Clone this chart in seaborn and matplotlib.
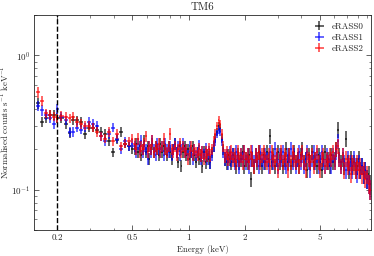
import numpy as np
import matplotlib
matplotlib.use("Agg")
import matplotlib.pyplot as plt
import matplotlib.ticker as mticker
import seaborn as sns

# Spectrum data
energy = [0.157, 0.165, 0.173, 0.182, 0.191, 0.200, 0.210, 0.221, 0.232, 0.243,
          0.255, 0.268, 0.282, 0.296, 0.311, 0.326, 0.342, 0.359, 0.377, 0.396,
          0.416, 0.437, 0.459, 0.482, 0.500,
          0.516, 0.526, 0.537, 0.548, 0.559, 0.570, 0.581, 0.593, 0.605, 0.617,
          0.629, 0.642, 0.654, 0.667, 0.681, 0.694, 0.708, 0.722, 0.737, 0.752,
          0.767, 0.782, 0.798, 0.814, 0.830, 0.846, 0.863, 0.881, 0.898, 0.916,
          0.935, 0.953, 0.972, 0.992, 1.012, 1.032, 1.052, 1.073, 1.095, 1.117,
          1.139, 1.162, 1.185, 1.209, 1.233, 1.258, 1.283, 1.309, 1.335, 1.361,
          1.389, 1.416, 1.445, 1.474, 1.503, 1.533, 1.564, 1.595, 1.627, 1.660,
          1.693, 1.727, 1.761, 1.797, 1.833, 1.869, 1.907, 1.945, 1.984, 2.023,
          2.064, 2.105, 2.147, 2.190, 2.234, 2.279, 2.324, 2.371, 2.418, 2.467,
          2.516, 2.566, 2.618, 2.670, 2.723, 2.778, 2.834, 2.890, 2.948, 3.007,
          3.067, 3.129, 3.191, 3.255, 3.320, 3.387, 3.454, 3.523, 3.594, 3.666,
          3.739, 3.814, 3.890, 3.968, 4.047, 4.128, 4.211, 4.295, 4.381, 4.469,
          4.558, 4.649, 4.742, 4.837, 4.934, 5.033, 5.133, 5.236, 5.341, 5.447,
          5.556, 5.668, 5.781, 5.897, 6.015, 6.135, 6.257, 6.383, 6.510, 6.640,
          6.773, 6.909, 7.047, 7.188, 7.331, 7.478, 7.628, 7.780, 7.936, 8.094,
          8.256, 8.421, 8.590, 8.762, 8.937, 9.116, 9.298, 9.484]

erass0 = [0.44, 0.32, 0.343, 0.36, 0.36, 0.343, 0.34, 0.306, 0.265, 0.33,
          0.33, 0.32, 0.258, 0.29, 0.29, 0.28, 0.27, 0.26, 0.23, 0.19,
          0.236, 0.27, 0.22, 0.21, 0.20,
          0.20, 0.22, 0.19, 0.21, 0.18, 0.20, 0.23, 0.19, 0.21, 0.17,
          0.20, 0.22, 0.19, 0.21, 0.20, 0.18, 0.22, 0.19, 0.21, 0.20,
          0.18, 0.21, 0.19, 0.17, 0.20, 0.22, 0.19, 0.16, 0.21, 0.15,
          0.19, 0.21, 0.18, 0.20, 0.17, 0.19, 0.21, 0.18, 0.16, 0.19,
          0.17, 0.18, 0.15, 0.19, 0.16, 0.18, 0.17, 0.16, 0.19, 0.21,
          0.24, 0.27, 0.30, 0.29, 0.24, 0.20, 0.17, 0.16, 0.18, 0.17,
          0.16, 0.18, 0.17, 0.15, 0.18, 0.16, 0.17, 0.19, 0.15, 0.17,
          0.16, 0.18, 0.12, 0.17, 0.15, 0.18, 0.16, 0.19, 0.17, 0.15,
          0.18, 0.16, 0.19, 0.17, 0.25, 0.16, 0.18, 0.15, 0.17, 0.19,
          0.16, 0.18, 0.15, 0.17, 0.20, 0.16, 0.18, 0.15, 0.17, 0.19,
          0.16, 0.17, 0.15, 0.18, 0.20, 0.16, 0.17, 0.14, 0.18, 0.16,
          0.19, 0.16, 0.17, 0.15, 0.18, 0.16, 0.14, 0.17, 0.19, 0.16,
          0.17, 0.15, 0.18, 0.16, 0.17, 0.20, 0.28, 0.18, 0.16, 0.17,
          0.15, 0.24, 0.16, 0.14, 0.17, 0.15, 0.16, 0.14, 0.15, 0.17,
          0.14, 0.15, 0.13, 0.14, 0.12, 0.13, 0.11, 0.10]

erass1 = [0.42, 0.39, 0.36, 0.34, 0.31, 0.40, 0.35, 0.33, 0.27, 0.27,
          0.29, 0.28, 0.29, 0.32, 0.31, 0.30, 0.25, 0.23, 0.26, 0.29,
          0.24, 0.20, 0.23, 0.21, 0.22,
          0.21, 0.19, 0.22, 0.20, 0.23, 0.19, 0.21, 0.20, 0.17, 0.21,
          0.19, 0.23, 0.20, 0.18, 0.22, 0.20, 0.19, 0.21, 0.18, 0.22,
          0.20, 0.19, 0.21, 0.18, 0.20, 0.22, 0.19, 0.21, 0.18, 0.20,
          0.22, 0.19, 0.20, 0.18, 0.21, 0.19, 0.17, 0.20, 0.18, 0.19,
          0.21, 0.17, 0.19, 0.18, 0.20, 0.17, 0.19, 0.16, 0.18, 0.21,
          0.23, 0.26, 0.28, 0.27, 0.23, 0.19, 0.17, 0.18, 0.16, 0.19,
          0.17, 0.18, 0.16, 0.19, 0.17, 0.15, 0.18, 0.17, 0.19, 0.16,
          0.18, 0.15, 0.17, 0.19, 0.16, 0.18, 0.17, 0.15, 0.19, 0.17,
          0.16, 0.18, 0.17, 0.15, 0.19, 0.17, 0.16, 0.20, 0.17, 0.15,
          0.18, 0.17, 0.19, 0.16, 0.15, 0.18, 0.17, 0.20, 0.16, 0.18,
          0.15, 0.17, 0.19, 0.16, 0.18, 0.15, 0.17, 0.19, 0.16, 0.14,
          0.17, 0.19, 0.16, 0.18, 0.15, 0.17, 0.19, 0.16, 0.15, 0.18,
          0.16, 0.17, 0.15, 0.18, 0.16, 0.19, 0.23, 0.17, 0.15, 0.18,
          0.16, 0.14, 0.17, 0.15, 0.16, 0.14, 0.17, 0.15, 0.13, 0.16,
          0.14, 0.15, 0.13, 0.14, 0.12, 0.11, 0.10, 0.095]

erass2 = [0.53, 0.46, 0.37, 0.36, 0.35, 0.34, 0.355, 0.35, 0.34, 0.35,
          0.32, 0.31, 0.30, 0.30, 0.29, 0.27, 0.25, 0.24, 0.27, 0.23,
          0.26, 0.21, 0.22, 0.23, 0.24,
          0.22, 0.20, 0.24, 0.19, 0.21, 0.20, 0.22, 0.25, 0.19, 0.21,
          0.20, 0.23, 0.19, 0.21, 0.20, 0.22, 0.19, 0.21, 0.24, 0.20,
          0.19, 0.21, 0.26, 0.20, 0.19, 0.21, 0.18, 0.20, 0.22, 0.19,
          0.21, 0.19, 0.20, 0.17, 0.19, 0.21, 0.18, 0.20, 0.19, 0.18,
          0.20, 0.18, 0.19, 0.17, 0.19, 0.18, 0.20, 0.18, 0.20, 0.23,
          0.26, 0.30, 0.33, 0.31, 0.26, 0.21, 0.18, 0.19, 0.17, 0.18,
          0.19, 0.17, 0.18, 0.16, 0.19, 0.17, 0.18, 0.16, 0.19, 0.17,
          0.18, 0.16, 0.19, 0.17, 0.15, 0.18, 0.17, 0.19, 0.16, 0.18,
          0.19, 0.17, 0.16, 0.18, 0.15, 0.19, 0.17, 0.16, 0.18, 0.14,
          0.17, 0.19, 0.16, 0.18, 0.17, 0.14, 0.18, 0.16, 0.19, 0.17,
          0.16, 0.18, 0.15, 0.17, 0.19, 0.16, 0.14, 0.18, 0.17, 0.16,
          0.18, 0.15, 0.17, 0.19, 0.16, 0.14, 0.17, 0.18, 0.15, 0.17,
          0.16, 0.18, 0.17, 0.19, 0.16, 0.20, 0.21, 0.17, 0.15, 0.18,
          0.14, 0.17, 0.15, 0.16, 0.13, 0.16, 0.15, 0.14, 0.16, 0.14,
          0.15, 0.13, 0.14, 0.12, 0.13, 0.11, 0.10, 0.10]

# fractional 1-sigma errors per bin
rel_err = [0.09, 0.09, 0.08, 0.08, 0.08, 0.08, 0.08, 0.08, 0.08, 0.08,
           0.08, 0.08, 0.08, 0.08, 0.08, 0.08, 0.08, 0.08, 0.08, 0.08,
           0.08, 0.08, 0.08, 0.08, 0.08,
           0.10, 0.10, 0.10, 0.10, 0.10, 0.10, 0.10, 0.10, 0.10, 0.10,
           0.10, 0.10, 0.10, 0.10, 0.10, 0.10, 0.10, 0.10, 0.10, 0.10,
           0.10, 0.10, 0.10, 0.10, 0.10, 0.10, 0.10, 0.10, 0.10, 0.10,
           0.10, 0.10, 0.10, 0.10, 0.10, 0.10, 0.10, 0.10, 0.10, 0.10,
           0.11, 0.11, 0.11, 0.11, 0.11, 0.11, 0.11, 0.11, 0.10, 0.09,
           0.08, 0.07, 0.07, 0.07, 0.08, 0.10, 0.12, 0.12, 0.12, 0.12,
           0.13, 0.13, 0.13, 0.13, 0.13, 0.13, 0.13, 0.13, 0.13, 0.13,
           0.13, 0.13, 0.13, 0.13, 0.13, 0.13, 0.13, 0.13, 0.13, 0.13,
           0.13, 0.13, 0.13, 0.13, 0.13, 0.13, 0.13, 0.13, 0.13, 0.13,
           0.13, 0.13, 0.13, 0.13, 0.13, 0.13, 0.13, 0.13, 0.13, 0.13,
           0.13, 0.13, 0.13, 0.13, 0.13, 0.13, 0.13, 0.13, 0.13, 0.13,
           0.13, 0.13, 0.13, 0.13, 0.13, 0.13, 0.13, 0.13, 0.13, 0.13,
           0.13, 0.13, 0.13, 0.13, 0.13, 0.13, 0.13, 0.13, 0.13, 0.13,
           0.14, 0.14, 0.14, 0.14, 0.14, 0.14, 0.14, 0.14, 0.14, 0.14,
           0.14, 0.15, 0.15, 0.15, 0.16, 0.16, 0.17, 0.17]

labels = ["eRASS0", "eRASS1", "eRASS2"]
colors = ["black", "blue", "red"]

# Style
sns.set_style("ticks")
plt.rcParams.update({
    "font.family": ["cmr10", "DejaVu Serif"],
    "mathtext.fontset": "cm",
    "axes.formatter.use_mathtext": True,
    "axes.unicode_minus": False,
    "xtick.direction": "in",
    "ytick.direction": "in",
    "xtick.top": True,
    "ytick.right": True,
    "xtick.minor.visible": True,
    "ytick.minor.visible": True,
    "xtick.major.size": 3.5,
    "ytick.major.size": 3.5,
    "xtick.minor.size": 1.8,
    "ytick.minor.size": 1.8,
    "axes.linewidth": 0.6,
    "xtick.major.width": 0.5,
    "ytick.major.width": 0.5,
    "xtick.minor.width": 0.4,
    "ytick.minor.width": 0.4,
})

e = np.array(energy)
edges = np.concatenate([[e[0] - (e[1] - e[0]) / 2],
                        (e[1:] + e[:-1]) / 2,
                        [e[-1] + (e[-1] - e[-2]) / 2]])
xerr = [e - edges[:-1], edges[1:] - e]

fig, ax = plt.subplots(figsize=(3.74, 2.56), dpi=100)
fig.subplots_adjust(left=0.091, right=0.992, bottom=0.102, top=0.941)

for vals, lab, col in zip([erass0, erass1, erass2], labels, colors):
    v = np.array(vals)
    ax.errorbar(e, v, xerr=xerr, yerr=v * np.array(rel_err), fmt="none",
                ecolor=col, elinewidth=1.2, alpha=0.7, label=lab)

ax.axvline(0.2, color="black", linestyle="--", linewidth=1.0)

ax.set_xscale("log")
ax.set_yscale("log")
ax.set_xlim(0.15, 9.4)
ax.set_ylim(0.05, 2.0)

ax.xaxis.set_major_locator(mticker.FixedLocator([0.2, 0.5, 1, 2, 5]))
ax.xaxis.set_major_formatter(mticker.FixedFormatter(["0.2", "0.5", "1", "2", "5"]))
ax.xaxis.set_minor_formatter(mticker.NullFormatter())
ax.tick_params(axis="both", which="both", labelsize=6.5, pad=3)

ax.set_title("TM6", fontsize=8, pad=4)
ax.set_xlabel("Energy (keV)", fontsize=6.3, labelpad=2)
ax.set_ylabel(r"Normalised counts s$^{-1}$ keV$^{-1}$", fontsize=6.3)
ax.yaxis.set_label_coords(-0.066, 0.5)

ax.legend(loc="upper right", frameon=False, fontsize=6.5, handlelength=1.2,
          borderaxespad=0.4, labelspacing=0.3)

plt.savefig("out.png", dpi=100)
plt.close()
